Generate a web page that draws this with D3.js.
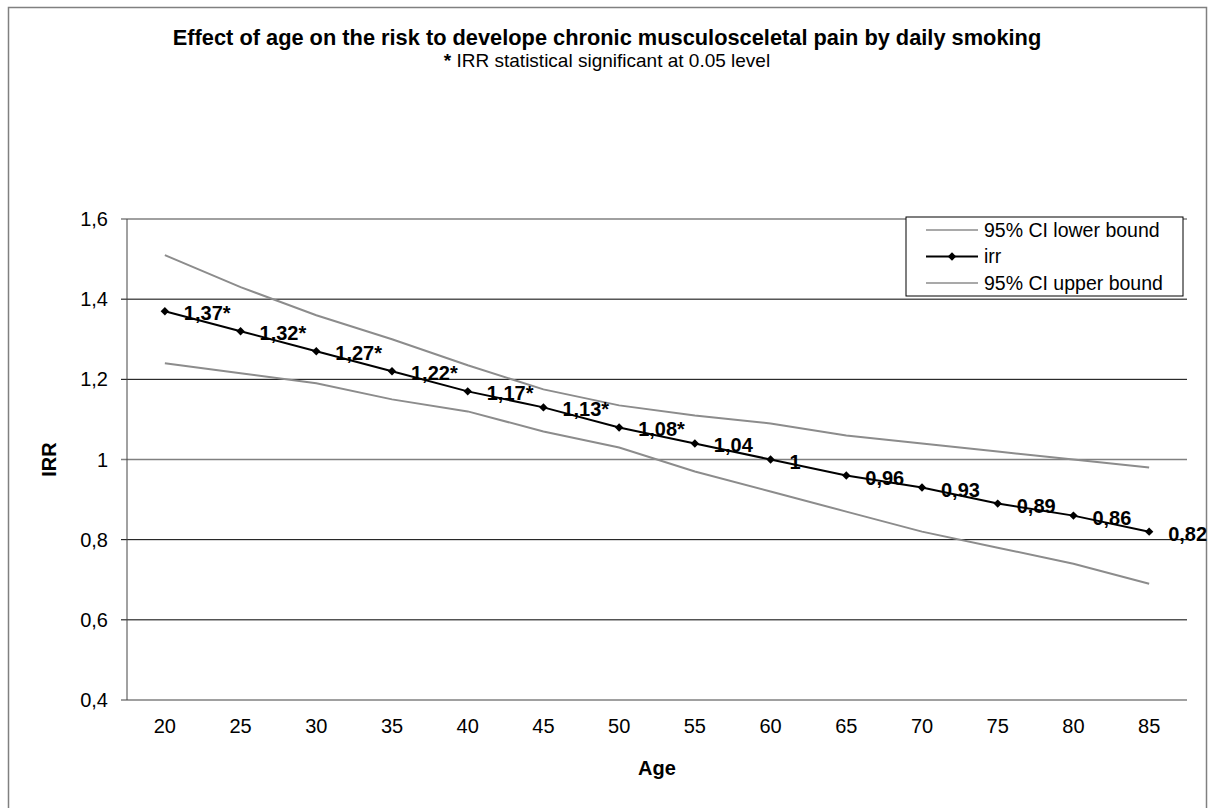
<!DOCTYPE html>
<html>
<head>
<meta charset="utf-8">
<script src="https://cdn.jsdelivr.net/npm/d3@7"></script>
<style>
  body { margin: 0; background: #fff; }
  svg text { font-family: "Liberation Sans", Arial, sans-serif; }
</style>
</head>
<body>
<svg width="1215" height="808"></svg>
<script>
// data
var ages = [20, 25, 30, 35, 40, 45, 50, 55, 60, 65, 70, 75, 80, 85];
var irr = [1.37, 1.32, 1.27, 1.22, 1.17, 1.13, 1.08, 1.04, 1, 0.96, 0.93, 0.89, 0.86, 0.82];
var irrLabels = ['1,37*', '1,32*', '1,27*', '1,22*', '1,17*', '1,13*', '1,08*', '1,04', '1', '0,96', '0,93', '0,89', '0,86', '0,82'];
var ciLower = [1.24, 1.215, 1.19, 1.15, 1.12, 1.07, 1.03, 0.97, 0.92, 0.87, 0.82, 0.78, 0.74, 0.69];
var ciUpper = [1.51, 1.43, 1.36, 1.30, 1.235, 1.175, 1.135, 1.11, 1.09, 1.06, 1.04, 1.02, 1.0, 0.98];
var yTicks = [0.4, 0.6, 0.8, 1, 1.2, 1.4, 1.6];

var svg = d3.select('svg');
var plotLeft = 127, plotRight = 1187, plotTop = 219, plotBottom = 700;

// outer chart border
svg.append('rect')
   .attr('x', 8.5).attr('y', 7.5)
   .attr('width', 1198).attr('height', 830)
   .attr('fill', 'none')
   .attr('stroke', '#808080')
   .attr('stroke-width', 1.5);

var x = d3.scaleBand().domain(ages).range([plotLeft, plotRight]);
var y = d3.scaleLinear().domain([0.4, 1.6]).range([plotBottom, plotTop]);
var cx = function(d) { return x(d) + x.bandwidth() / 2; };

function fmt(v) { return String(v).replace('.', ','); }

// gridlines
svg.append('g').selectAll('line')
   .data(yTicks)
   .enter()
   .append('line')
   .attr('x1', plotLeft - 6).attr('x2', plotRight)
   .attr('y1', function(d) { return y(d); })
   .attr('y2', function(d) { return y(d); })
   .attr('stroke', function(d) { return (d == 1.6 || d == 0.4 || d == 1) ? '#808080' : '#000'; })
   .attr('stroke-width', function(d) { return (d == 1.6 || d == 0.4 || d == 1) ? 1.5 : 1; });

// left axis line
svg.append('line')
   .attr('x1', plotLeft).attr('x2', plotLeft)
   .attr('y1', plotTop).attr('y2', plotBottom)
   .attr('stroke', '#444');

// y tick labels
svg.append('g').selectAll('text')
   .data(yTicks)
   .enter()
   .append('text')
   .attr('x', 108)
   .attr('y', function(d) { return y(d); })
   .attr('dy', '0.35em')
   .attr('text-anchor', 'end')
   .attr('font-size', 20)
   .text(fmt);

// x tick labels
svg.append('g').selectAll('text')
   .data(ages)
   .enter()
   .append('text')
   .attr('x', cx)
   .attr('y', 733)
   .attr('text-anchor', 'middle')
   .attr('font-size', 20)
   .text(function(d) { return d; });

// axis titles
svg.append('text')
   .attr('x', (plotLeft + plotRight) / 2).attr('y', 775)
   .attr('text-anchor', 'middle')
   .attr('font-size', 20).attr('font-weight', 'bold')
   .text('Age');

svg.append('text')
   .attr('transform', 'translate(56,' + y(1) + ') rotate(-90)')
   .attr('text-anchor', 'middle')
   .attr('font-size', 20).attr('font-weight', 'bold')
   .text('IRR');

// titles
svg.append('text')
   .attr('x', 607).attr('y', 45)
   .attr('text-anchor', 'middle')
   .attr('font-size', 21.8).attr('font-weight', 'bold')
   .text('Effect of age on the risk to develope chronic musculosceletal pain by daily smoking');

var sub = svg.append('text')
   .attr('x', 607).attr('y', 67)
   .attr('text-anchor', 'middle')
   .attr('font-size', 19);
sub.append('tspan').attr('font-weight', 'bold').text('*');
sub.append('tspan').text(' IRR statistical significant at 0.05 level');

// series
var line = d3.line()
   .x(function(d, i) { return cx(ages[i]); })
   .y(function(d) { return y(d); });

[ciLower, ciUpper].forEach(function(s) {
   svg.append('path')
      .datum(s)
      .attr('d', line)
      .attr('fill', 'none')
      .attr('stroke', '#8c8c8c')
      .attr('stroke-width', 2);
});

svg.append('path')
   .datum(irr)
   .attr('d', line)
   .attr('fill', 'none')
   .attr('stroke', '#000')
   .attr('stroke-width', 2);

var diamond = d3.symbol().type(d3.symbolDiamond2).size(45);

svg.append('g').selectAll('path')
   .data(irr)
   .enter()
   .append('path')
   .attr('d', diamond)
   .attr('transform', function(d, i) { return 'translate(' + cx(ages[i]) + ',' + y(d) + ')'; })
   .attr('fill', '#000');

svg.append('g').selectAll('text')
   .data(irr)
   .enter()
   .append('text')
   .attr('x', function(d, i) { return cx(ages[i]) + 19; })
   .attr('y', function(d) { return y(d) + 2; })
   .attr('dy', '0.35em')
   .attr('font-size', 20).attr('font-weight', 'bold')
   .text(function(d, i) { return irrLabels[i]; });

// legend
var legend = svg.append('g').attr('transform', 'translate(906,217)');
legend.append('rect')
   .attr('width', 277).attr('height', 79)
   .attr('fill', '#fff')
   .attr('stroke', '#000');

var legendItems = [
   { name: '95% CI lower bound', color: '#8c8c8c', marker: false },
   { name: 'irr', color: '#000', marker: true },
   { name: '95% CI upper bound', color: '#8c8c8c', marker: false }
];
var entry = legend.selectAll('g')
   .data(legendItems)
   .enter()
   .append('g')
   .attr('transform', function(d, i) { return 'translate(0,' + (13 + i * 26.5) + ')'; });

entry.append('line')
   .attr('x1', 20).attr('x2', 72)
   .attr('stroke', function(d) { return d.color; })
   .attr('stroke-width', function(d) { return d.marker ? 2 : 1.5; });
entry.filter(function(d) { return d.marker; })
   .append('path')
   .attr('d', diamond)
   .attr('transform', 'translate(46,0)');
entry.append('text')
   .attr('x', 78)
   .attr('dy', '0.35em')
   .attr('font-size', 19.5)
   .text(function(d) { return d.name; });
</script>
</body>
</html>
